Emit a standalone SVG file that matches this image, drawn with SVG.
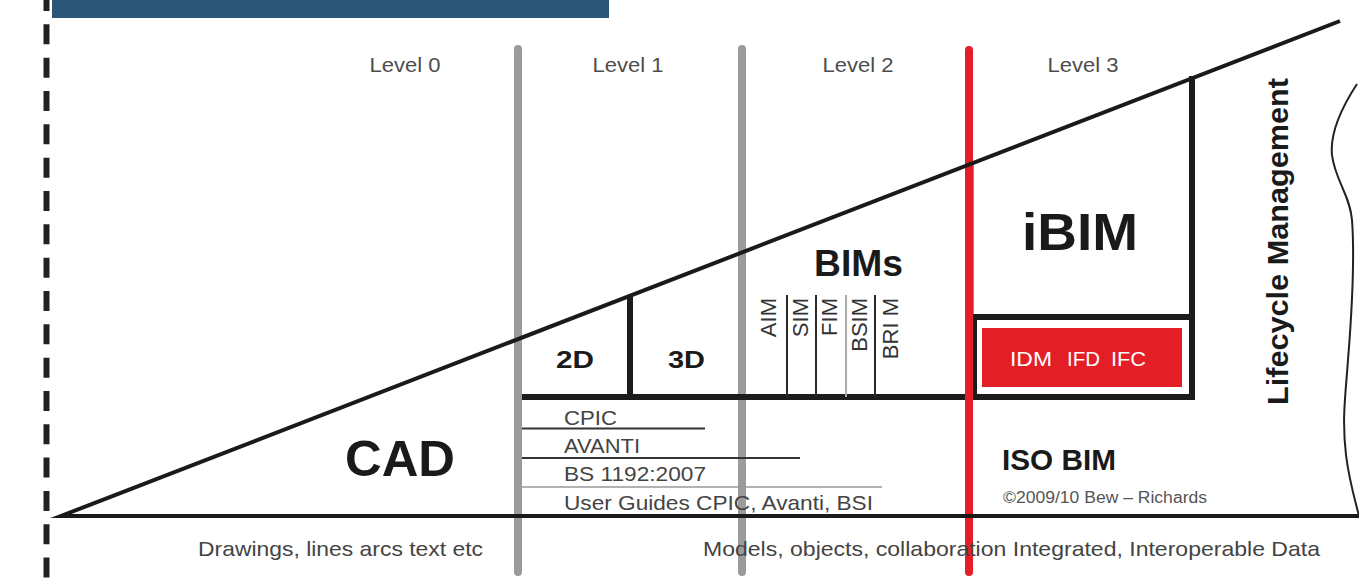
<svg xmlns="http://www.w3.org/2000/svg" width="1359" height="581" viewBox="0 0 1359 581">
  <style>
    text { font-family: "Liberation Sans", Arial, Helvetica, sans-serif; }
    .lvl { font-size: 20px; fill: #4d4d4d; text-anchor: middle; }
    .std { font-size: 21px; fill: #444; }
    .big { font-weight: bold; fill: #1a1a1a; }
    .vert { font-size: 22px; fill: #333; text-anchor: end; }
    .idm { font-size: 21px; fill: #ffffff; }
    .thick { stroke: #1c1c1c; stroke-width: 6; fill: none; }
    .thin { stroke: #2a2a2a; stroke-width: 2; fill: none; }
    .grey { stroke: #9b9b9b; stroke-width: 8; stroke-linecap: round; fill: none; }
    .red { stroke: #e31e26; stroke-width: 8; stroke-linecap: round; fill: none; }
  </style>
  <rect width="1359" height="581" fill="#ffffff"/>

  <g id="frame">
    <rect x="52" y="0" width="557" height="18" fill="#2b5677"/>
    <line x1="46.5" y1="-9" x2="46.5" y2="581" stroke="#222" stroke-width="6" stroke-dasharray="20 13.33"/>
  </g>

  <g id="connectors">
    <!-- level dividers -->
    <line class="grey" x1="518" y1="49" x2="518" y2="572"/>
    <line class="grey" x1="742" y1="49" x2="742" y2="572"/>
    <!-- structure lines -->
    <line class="thick" x1="522" y1="397" x2="1195" y2="397"/>
    <line class="thick" x1="630" y1="295" x2="630" y2="397"/>
    <line class="thick" x1="1192" y1="76" x2="1192" y2="400"/>
    <line x1="971" y1="164" x2="971" y2="317" stroke="#1c1c1c" stroke-width="5"/>
    <line class="thick" x1="974" y1="314" x2="974" y2="400"/>
    <line class="thick" x1="973" y1="317" x2="1192" y2="317"/>
    <!-- BIMs dividers -->
    <line class="thin" x1="787" y1="295" x2="787" y2="397"/>
    <line class="thin" x1="816" y1="295" x2="816" y2="397"/>
    <line x1="846" y1="295" x2="846" y2="397" stroke="#aaa" stroke-width="2"/>
    <line class="thin" x1="875" y1="295" x2="875" y2="397"/>
    <!-- standards lines -->
    <line x1="522" y1="428.5" x2="705" y2="428.5" stroke="#333" stroke-width="2"/>
    <line x1="522" y1="458" x2="800" y2="458" stroke="#333" stroke-width="2"/>
    <line x1="522" y1="487" x2="882" y2="487" stroke="#999" stroke-width="1.5"/>
    <!-- level 3 divider -->
    <line class="red" x1="969" y1="50" x2="969" y2="572"/>
    <!-- main triangle -->
    <path d="M1340 21 L61 516 L1359 516" fill="none" stroke="#1a1a1a" stroke-width="4" stroke-linejoin="miter" stroke-miterlimit="12"/>
    <!-- wavy edge -->
    <path d="M1357 84 C1340 110 1330 135 1332 155 C1335 180 1350 195 1352 220 C1355 260 1352 310 1348 360 C1345 400 1342 420 1346 455 C1349 480 1355 500 1359 516" fill="none" stroke="#222" stroke-width="2"/>
  </g>

  <g id="levels">
    <text class="lvl" x="405" y="72" textLength="71" lengthAdjust="spacingAndGlyphs">Level 0</text>
    <text class="lvl" x="628" y="72" textLength="71" lengthAdjust="spacingAndGlyphs">Level 1</text>
    <text class="lvl" x="858" y="72" textLength="71" lengthAdjust="spacingAndGlyphs">Level 2</text>
    <text class="lvl" x="1083" y="72" textLength="71" lengthAdjust="spacingAndGlyphs">Level 3</text>
  </g>

  <g id="node-cad">
    <text class="big" x="345" y="476" font-size="50" textLength="110" lengthAdjust="spacingAndGlyphs">CAD</text>
  </g>

  <g id="node-2d">
    <text class="big" x="556" y="368" font-size="24" textLength="38" lengthAdjust="spacingAndGlyphs">2D</text>
  </g>
  <g id="node-3d">
    <text class="big" x="668" y="368" font-size="24" textLength="37" lengthAdjust="spacingAndGlyphs">3D</text>
  </g>

  <g id="node-bims">
    <text class="big" x="814" y="276" font-size="36" textLength="89" lengthAdjust="spacingAndGlyphs">BIMs</text>
    <text class="vert" x="776" y="298" transform="rotate(-90 776 298)">AIM</text>
    <text class="vert" x="808" y="298" transform="rotate(-90 808 298)">SIM</text>
    <text class="vert" x="837" y="298" transform="rotate(-90 837 298)">FIM</text>
    <text class="vert" x="867" y="298" transform="rotate(-90 867 298)">BSIM</text>
    <text class="vert" x="898" y="298" transform="rotate(-90 898 298)">BRI M</text>
  </g>

  <g id="node-ibim">
    <text class="big" x="1022" y="250" font-size="52" textLength="116" lengthAdjust="spacingAndGlyphs">iBIM</text>
  </g>

  <g id="node-idm">
    <rect x="982" y="328" width="200" height="59" fill="#e31e26"/>
    <text class="idm" x="1010" y="366" textLength="42" lengthAdjust="spacingAndGlyphs">IDM</text>
    <text class="idm" x="1067" y="366" textLength="33" lengthAdjust="spacingAndGlyphs">IFD</text>
    <text class="idm" x="1111" y="366" textLength="35" lengthAdjust="spacingAndGlyphs">IFC</text>
  </g>

  <g id="node-standards">
    <text class="std" x="564" y="425" textLength="53" lengthAdjust="spacingAndGlyphs">CPIC</text>
    <text class="std" x="564" y="453" textLength="76" lengthAdjust="spacingAndGlyphs">AVANTI</text>
    <text class="std" x="564" y="481" textLength="142" lengthAdjust="spacingAndGlyphs">BS 1192:2007</text>
    <text class="std" x="564" y="510" textLength="309" lengthAdjust="spacingAndGlyphs">User Guides CPIC, Avanti, BSI</text>
  </g>

  <g id="node-isobim">
    <text class="big" x="1002" y="470" font-size="30" textLength="114" lengthAdjust="spacingAndGlyphs">ISO BIM</text>
    <text x="1003" y="503" font-size="16" fill="#555" textLength="204" lengthAdjust="spacingAndGlyphs">©2009/10 Bew – Richards</text>
  </g>

  <g id="node-lifecycle">
    <text class="big" x="1288" y="405" font-size="30" transform="rotate(-90 1288 405)" textLength="327" lengthAdjust="spacingAndGlyphs">Lifecycle Management</text>
  </g>

  <g id="captions">
    <text class="std" x="198" y="556" textLength="285" lengthAdjust="spacingAndGlyphs">Drawings, lines arcs text etc</text>
    <text class="std" x="703" y="556" textLength="617" lengthAdjust="spacingAndGlyphs">Models, objects, collaboration Integrated, Interoperable Data</text>
  </g>
</svg>
